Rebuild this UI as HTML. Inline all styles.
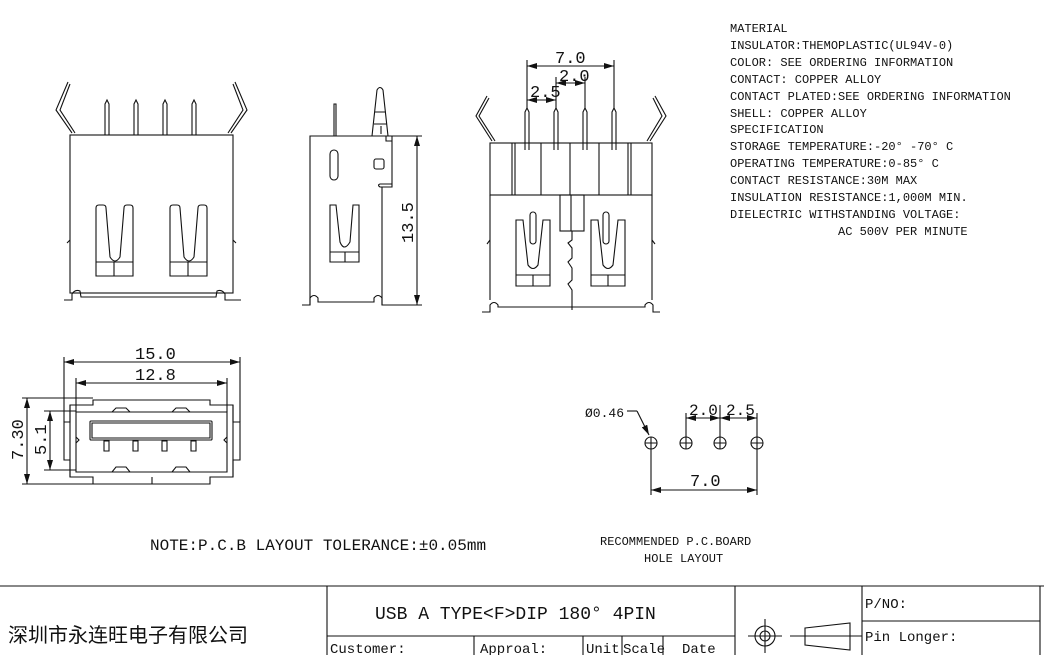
<!DOCTYPE html>
<html><head><meta charset="utf-8"><style>
html,body{margin:0;padding:0;background:#fff;}
svg{display:block;}
text{font-family:"Liberation Mono","Noto Sans CJK SC",monospace;fill:#111;}
</style></head><body>
<svg width="1044" height="655" viewBox="0 0 1044 655" xmlns="http://www.w3.org/2000/svg">
<defs>
<marker id="a" viewBox="0 0 10 6" refX="10" refY="3" markerWidth="10" markerHeight="6" orient="auto-start-reverse" markerUnits="userSpaceOnUse"><path d="M0,0 L10,3 L0,6 z" fill="#111"/></marker>
</defs>
<g fill="none" stroke="#111" stroke-width="1.1">
<rect x="70" y="135" width="163" height="158"/>
<path d="M72,133 L56,110 L68,82 M75,133 L60,110 L70,84"/>
<path d="M231,133 L247,110 L235,82 M228,133 L243,110 L233,84"/>
<path d="M105,135 V104 L107,100 L109,104 V135 M134,135 V104 L136,100 L138,104 V135 M163,135 V104 L165,100 L167,104 V135 M192,135 V104 L194,100 L196,104 V135"/>
<path d="M96,276 V208 Q96,205 99,205 H103 Q106,205 106,208 L110,257 Q115,265 120,257 L124,208 Q124,205 127,205 H130 Q133,205 133,208 V276 Z M96,262 H133 M114,262 V276"/>
<path d="M170,276 V208 Q170,205 173,205 H177 Q180,205 180,208 L184,257 Q189,265 194,257 L198,208 Q198,205 201,205 H204 Q207,205 207,208 V276 Z M170,262 H207 M188,262 V276"/>
<path d="M64,300 H72 V294 Q75,289 80,291 L81,297 H216 L217,291 Q222,289 225,294 V300 H241 M207,293 H216"/>
<path d="M70,240 L67,243 M233,240 L236,243"/>
<path d="M310,305 V136 H392 V187 H380 Q377,185 380,184 H392 M382,187 V305"/>
<path d="M386,136 V141 H392"/>
<path d="M334,136 V104 H336 V136"/>
<path d="M372,136 L377,90 Q380,85 383,90 L388,136 M375,112 H386 M374,124 H387 M381,126 V134"/>
<rect x="330" y="150" width="8" height="30" rx="4"/>
<rect x="374" y="159" width="10" height="10" rx="2"/>
<path d="M330,262 V205 H336 L340,242 Q344,252 350,242 L353,205 H359 V262 Z M330,252 H359 M345,252 V262"/>
<path d="M302,305 H310 V298 Q314,293 318,298 V302 H374 V298 Q378,293 382,298 V305 H392"/>
<path d="M392,136 H422 M392,305 H422"/>
<line x1="417" y1="136" x2="417" y2="305" marker-start="url(#a)" marker-end="url(#a)"/>
<rect x="490" y="143" width="162" height="52"/>
<path d="M490,195 V300 M652,195 V300"/>
<path d="M492,141 L476,116 L487,96 M495,141 L479,116 L489,98"/>
<path d="M650,141 L666,116 L655,96 M647,141 L662,116 L653,98"/>
<path d="M512,143 V195 M515,143 V195 M541,143 V195 M570,143 V195 M599,143 V195 M628,143 V195 M631,143 V195"/>
<path d="M525,150 V112 L527,108 L529,112 V150 M554,150 V112 L556,108 L558,112 V150 M583,150 V112 L585,108 L587,112 V150 M612,150 V112 L614,108 L616,112 V150"/>
<path d="M527,108 V60 M556,108 V77 M585,108 V77 M614,108 V60"/>
<rect x="560" y="195" width="24" height="36"/>
<path d="M571,195 V231"/>
<path d="M572,231 L572,240 L568,243 L572,248 L572,258 L568,262 L572,268 L572,280 L568,284 L572,290 L572,310"/>
<path d="M516,286 V220 H523 L528,265 Q533,272 538,265 L543,220 H550 V286 Z M516,275 H550 M533,275 V286"/>
<rect x="530" y="212" width="6" height="32" rx="3"/>
<path d="M591,286 V220 H598 L603,265 Q608,272 613,265 L618,220 H625 V286 Z M591,275 H625 M608,275 V286"/>
<rect x="603" y="212" width="6" height="32" rx="3"/>
<path d="M482,312 H490 V305 Q494,300 498,305 V307 H645 V305 Q649,300 653,305 V312 H660"/>
<path d="M490,240 L487,244 M652,240 L655,244"/>
<line x1="527" y1="66" x2="614" y2="66" marker-start="url(#a)" marker-end="url(#a)"/>
<line x1="556" y1="83" x2="585" y2="83" marker-start="url(#a)" marker-end="url(#a)"/>
<line x1="527" y1="100" x2="556" y2="100" marker-start="url(#a)" marker-end="url(#a)"/>
<path d="M64,422 H70 V405 H93 V400 H210 V405 H233 V422 H240 V460 H233 V477 H210 V484 H93 V477 H70 V460 H64 Z"/>
<path d="M76,412 H227 V472 H76 Z M70,405 V477 M233,405 V477 M152,477 V484"/>
<rect x="90" y="421" width="122" height="19" rx="1"/>
<path d="M92,423 H210 V438 H92 Z"/>
<path d="M104,441 h5 v10 h-5 z M133,441 h5 v10 h-5 z M162,441 h5 v10 h-5 z M191,441 h5 v10 h-5 z"/>
<path d="M112,412 L116,408 H126 L130,412 M172,412 L176,408 H186 L190,412"/>
<path d="M112,472 L116,467 H126 L130,472 M172,472 L176,467 H186 L190,472"/>
<path d="M76,437 L79,440 L76,443 M227,437 L224,440 L227,443"/>
<path d="M64,422 V357 M240,422 V357 M76,412 V378 M227,412 V378"/>
<line x1="64" y1="362" x2="240" y2="362" marker-start="url(#a)" marker-end="url(#a)"/>
<line x1="76" y1="383" x2="227" y2="383" marker-start="url(#a)" marker-end="url(#a)"/>
<path d="M22,398 H93 M22,484 H93 M44,411 H76 M44,470 H76"/>
<line x1="27" y1="398" x2="27" y2="484" marker-start="url(#a)" marker-end="url(#a)"/>
<line x1="50" y1="411" x2="50" y2="470" marker-start="url(#a)" marker-end="url(#a)"/>
<circle cx="651" cy="443" r="6"/><circle cx="686" cy="443" r="6"/><circle cx="720" cy="443" r="6"/><circle cx="757" cy="443" r="6"/>
<path d="M645,443 H657 M651,437 V449 M680,443 H692 M686,437 V449 M714,443 H726 M720,437 V449 M751,443 H763 M757,437 V449"/>
<path d="M651,449 V495 M757,449 V495 M686,437 V413 M720,437 V405 M757,437 V413"/>
<line x1="651" y1="490" x2="757" y2="490" marker-start="url(#a)" marker-end="url(#a)"/>
<line x1="686" y1="418" x2="720" y2="418" marker-start="url(#a)" marker-end="url(#a)"/>
<line x1="720" y1="418" x2="757" y2="418" marker-start="url(#a)" marker-end="url(#a)"/>
<path d="M627,411 H637"/>
<line x1="637" y1="411" x2="649" y2="435" marker-end="url(#a)"/>
<path d="M0,586 H1044"/>
<path d="M327,586 V655 M735,586 V655 M862,586 V655 M1040,586 V655"/>
<path d="M327,636 H735 M862,621 H1040"/>
<path d="M474,636 V655 M583,636 V655 M622,636 V655 M663,636 V655"/>
<circle cx="765" cy="636" r="10"/><circle cx="765" cy="636" r="5"/>
<path d="M748,636 H782 M765,619 V653 M790,636 H862"/>
<path d="M805,628 L850,623 V650 L805,645 Z"/>
</g>
<g font-size="17">
<text x="135" y="359">15.0</text>
<text x="135" y="380">12.8</text>
<text x="555" y="63">7.0</text>
<text x="559" y="81">2.0</text>
<text x="530" y="97">2.5</text>
<text x="690" y="486">7.0</text>
<text transform="translate(413,243) rotate(-90)">13.5</text>
<text transform="translate(23,460) rotate(-90)">7.30</text>
<text transform="translate(46,455) rotate(-90)">5.1</text>
</g>
<g font-size="16">
<text x="689" y="415">2.0</text>
<text x="726" y="415">2.5</text>
</g>
<text x="585" y="417" font-size="13">Ø0.46</text>
<g font-size="12">
<text x="730" y="32">MATERIAL</text>
<text x="730" y="49">INSULATOR:THEMOPLASTIC(UL94V-0)</text>
<text x="730" y="66">COLOR: SEE ORDERING INFORMATION</text>
<text x="730" y="83">CONTACT: COPPER ALLOY</text>
<text x="730" y="100">CONTACT PLATED:SEE ORDERING INFORMATION</text>
<text x="730" y="117">SHELL: COPPER ALLOY</text>
<text x="730" y="133">SPECIFICATION</text>
<text x="730" y="150">STORAGE TEMPERATURE:-20° -70° C</text>
<text x="730" y="167">OPERATING TEMPERATURE:0-85° C</text>
<text x="730" y="184">CONTACT RESISTANCE:30M   MAX</text>
<text x="730" y="201">INSULATION RESISTANCE:1,000M  MIN.</text>
<text x="730" y="218">DIELECTRIC WITHSTANDING VOLTAGE:</text>
<text x="838" y="235">AC 500V PER MINUTE</text>
<text x="600" y="545">RECOMMENDED P.C.BOARD</text>
<text x="644" y="562">HOLE LAYOUT</text>
</g>
<text x="150" y="550" font-size="16">NOTE:P.C.B LAYOUT TOLERANCE:±0.05mm</text>
<text x="375" y="619" font-size="18">USB A TYPE&lt;F&gt;DIP 180°  4PIN</text>
<text x="8" y="642" font-size="20" style="font-family:'Noto Sans CJK SC',sans-serif">深圳市永连旺电子有限公司</text>
<g font-size="14">
<text x="330" y="653">Customer:</text>
<text x="480" y="653">Approal:</text>
<text x="586" y="653">Unit</text>
<text x="623" y="653">Scale</text>
<text x="682" y="653">Date</text>
<text x="865" y="608">P/NO:</text>
<text x="865" y="641">Pin Longer:</text>
</g>
</svg>
</body></html>
